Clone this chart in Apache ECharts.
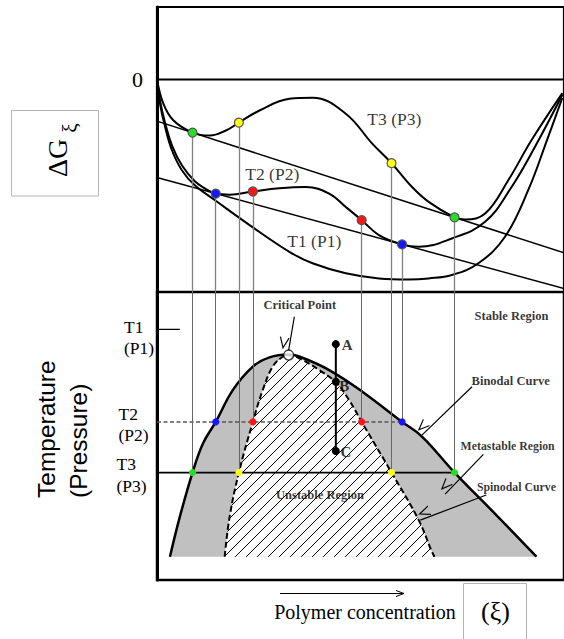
<!DOCTYPE html>
<html><head><meta charset="utf-8">
<script src="https://cdn.jsdelivr.net/npm/echarts@6/dist/echarts.min.js"></script>
<style>html,body{margin:0;padding:0;background:#fff}#c{width:564px;height:639px}</style>
</head><body><div id="c"></div>
<script>
// ---------------- data ----------------
// x : polymer concentration (arbitrary units 0-100)
// upper panel : ΔGξ (arbitrary units, 0 = top reference line)
const curveT1 = [[0,0],[0.73,-11.3],[1.96,-22.1],[3.67,-33.3],[6.11,-42.7],[9.29,-49.8],[14.6,-57.3],[22.74,-68.5],[32.52,-81.1],[38.22,-86.5],[46.38,-91.2],[54.52,-93.6],[61.86,-94.1],[66.75,-93.6],[72.44,-92.0],[78.97,-86.5],[85.5,-74.0],[91.2,-52.1],[96.09,-27.1],[99.6,-8.6]];
const curveT2 = [[0,0],[0.73,-9.9],[1.96,-20.2],[3.67,-31.0],[6.11,-40.4],[9.29,-47.9],[11.74,-51.2],[14.43,-53.7],[17.85,-54.2],[23.55,-52.7],[30.07,-51.2],[36.6,-50.6],[42.3,-53.7],[46.38,-60.0],[50.29,-66.2],[54.52,-73.2],[60.22,-77.6],[64.3,-78.7],[72.44,-74.8],[80.61,-67.0],[87.12,-50.6],[92.84,-31.8],[99.6,-7.2]];
const curveT3 = [[0,0],[1.56,-11.4],[4.0,-19.2],[8.73,-25.0],[12.96,-26.4],[17.04,-23.9],[20.12,-20.3],[25.18,-14.6],[32.52,-9.1],[38.22,-8.6],[46.38,-16.1],[52.89,-30.2],[57.63,-39.4],[62.67,-50.6],[66.75,-57.6],[73.11,-64.9],[75.72,-65.9],[80.61,-63.1],[86.31,-47.4],[92.0,-28.6],[99.6,-6.4]];
const curveNames = ['T1 (P1)','T2 (P2)','T3 (P3)'];

// tie points (common-tangent points, inflection points)
const greenX = [8.73, 73.11],  greenG = [-25.0, -64.9];   // binodal at T3
const yellowX = [20.12, 57.63], yellowG = [-20.3, -39.4]; // spinodal at T3
const blueX = [14.43, 60.22],  blueG = [-53.7, -77.6];    // binodal at T2
const redX = [23.55, 50.29],   redG = [-52.7, -66.2];     // spinodal at T2

// lower panel : temperature (arbitrary units 0-100)
const tempLevels = [87.0, 54.9, 37.3];
const tempNames = ['T1','T2','T3'];
const pressureNames = ['(P1)','(P2)','(P3)'];
const binodal = [[3.18,8.1],[5.62,22.0],[8.73,37.3],[11.32,47.5],[14.43,54.9],[18.66,66.0],[23.55,74.1],[27.63,77.3],[32.35,78.3],[34.96,77.6],[42.3,72.9],[50.44,65.4],[60.22,54.9],[65.11,49.8],[73.11,37.3],[83.13,22.9],[93.23,8.1]];
const spinodal = [[16.63,8.1],[17.85,22.0],[20.12,37.3],[23.55,54.9],[25.99,66.0],[28.44,74.1],[30.88,77.5],[32.35,78.0],[34.96,77.0],[39.85,72.9],[43.94,68.6],[47.19,62.5],[50.29,54.9],[57.63,37.3],[64.3,20.8],[67.55,9.8],[68.2,8.1]];
const diagramBaseT = 8.1;
const criticalPoint = [32.35, 78.1];
const pathNames = ['A','B','C'];
const pathX = 43.94;
const pathT = [81.9, 68.85, 44.8];

// ---------------- helpers ----------------
const SERIF = "'Liberation Serif','Times New Roman',serif";
const SANS = "'Liberation Sans',Arial,sans-serif";
function tangentThrough(xs, gs) {
  const k = (gs[1] - gs[0]) / (xs[1] - xs[0]);
  const b = gs[0] - k * xs[0];
  return [[0, b], [100, 100 * k + b]];
}
function pairs(xs, ys) { return xs.map((x, i) => [x, ys[i]]); }
function makeHatch() {
  const c = document.createElement('canvas'); c.width = 11; c.height = 11;
  const g = c.getContext('2d');
  g.fillStyle = '#fff'; g.fillRect(0, 0, 11, 11);
  g.strokeStyle = '#000'; g.lineWidth = 1;
  g.beginPath();
  g.moveTo(-1, 12); g.lineTo(12, -1);
  g.moveTo(-1, 1); g.lineTo(1, -1);
  g.moveTo(10, 12); g.lineTo(12, 10);
  g.stroke();
  return c;
}
const topDrops = [];
[[greenX, greenG], [yellowX, yellowG], [blueX, blueG], [redX, redG]].forEach(([xs, gs]) =>
  xs.forEach((x, i) => topDrops.push([{ coord: [x, gs[i]] }, { coord: [x, -100] }])));
const bottomDrops = [];
[[greenX, tempLevels[2]], [yellowX, tempLevels[2]], [blueX, tempLevels[1]], [redX, tempLevels[1]]].forEach(([xs, t]) =>
  xs.forEach(x => bottomDrops.push([{ coord: [x, 100] }, { coord: [x, t] }])));

const arrowHead = 'path://M0,12 L6,0 L12,12 L10.5,12 L6,3 L1.5,12 Z';
const blackLine = (w) => ({ color: '#000', width: w });

function line(gi, data, style, extra) {
  return Object.assign({ type: 'line', xAxisIndex: gi, yAxisIndex: gi, data, symbol: 'none', smooth: false, z: 3,
    silent: true, lineStyle: style }, extra || {});
}
function dots(gi, data, color, size, border) {
  return { type: 'scatter', xAxisIndex: gi, yAxisIndex: gi, data, symbolSize: size, silent: true, z: 5,
    itemStyle: Object.assign({ color, opacity: 1 }, border ? { borderColor: '#555', borderWidth: 1.2 } : {}) };
}
function texts(gi, data, pos, style) {
  return { type: 'scatter', xAxisIndex: gi, yAxisIndex: gi, symbolSize: 0, silent: true, data, z: 6,
    label: Object.assign({ show: true, position: pos, distance: 0, formatter: '{b}', color: '#000' }, style) };
}

const rich = {};
tempNames.forEach((n, i) => {
  rich['s' + i] = { fontSize: 1, lineHeight: i === 0 ? 16.4 : 5 };
  rich['a' + i] = { fontFamily: SERIF, fontSize: 17.5, lineHeight: 21.6, color: '#000', padding: [0, 0, 0, [8, 2.5, 0.5][i]] };
});

const chart = echarts.init(document.getElementById('c'), null, { renderer: 'svg' });
chart.setOption({
  animation: false,
  backgroundColor: '#fff',
  textStyle: { fontFamily: SERIF },
  grid: [
    { left: 157, top: 7, right: -2, height: 285, show: true, borderColor: '#000', borderWidth: 2.2 },
    { left: 157, top: 292, right: -2, height: 288, show: true, borderColor: '#000', borderWidth: 2.5 }
  ],
  xAxis: [
    { gridIndex: 0, type: 'value', min: 0, max: 100, show: false },
    { gridIndex: 1, type: 'value', min: 0, max: 100, show: false }
  ],
  yAxis: [
    { gridIndex: 0, type: 'value', min: -100, max: 34.1, axisLine: { show: true, lineStyle: blackLine(3) },
      axisTick: { show: false }, splitLine: { show: false },
      axisLabel: { customValues: [0], formatter: v => String(v), fontFamily: SERIF, fontSize: 22, color: '#000', margin: 14 } },
    { gridIndex: 1, type: 'value', min: 0, max: 100, axisLine: { show: true, lineStyle: blackLine(3) },
      axisTick: { show: false }, splitLine: { show: false },
      axisLabel: { customValues: tempLevels, align: 'left', margin: 41, rich,
        formatter: v => { const i = tempLevels.indexOf(v); return i < 0 ? '' :
          `{s${i}| }\n{a${i}|${tempNames[i]}}\n{a${i}|${pressureNames[i]}}`; } } }
  ],
  graphic: [
    { type: 'rect', shape: { x: 11.5, y: 110.5, width: 87, height: 85.5 }, style: { fill: 'none', stroke: '#b4b4b4', lineWidth: 1 }, silent: true },
    { type: 'text', x: 57.5, y: 158, rotation: Math.PI / 2, silent: true,
      style: { text: 'ΔG', fontFamily: SERIF, fontSize: 28, fill: '#000', align: 'center', verticalAlign: 'middle' } },
    { type: 'text', x: 70, y: 128, rotation: Math.PI / 2, silent: true,
      style: { text: 'ξ', fontFamily: SERIF, fontSize: 21, fill: '#000', align: 'center', verticalAlign: 'middle' } },
    { type: 'text', x: 62.5, y: 498, rotation: Math.PI / 2, silent: true,
      style: { text: 'Temperature\n(Pressure)', fontFamily: SANS, fontSize: 24.5, lineHeight: 31.6, fill: '#000', align: 'left', verticalAlign: 'middle' } },
    { type: 'text', x: 365, y: 612, silent: true,
      style: { text: 'Polymer concentration', fontFamily: SERIF, fontSize: 20, fill: '#000', align: 'center', verticalAlign: 'middle' } },
    { type: 'rect', shape: { x: 463.5, y: 583.5, width: 63, height: 70 }, style: { fill: 'none', stroke: '#b4b4b4', lineWidth: 1 }, silent: true },
    { type: 'text', x: 495.5, y: 611, silent: true,
      style: { text: '(ξ)', fontFamily: SERIF, fontSize: 26, fill: '#000', align: 'center', verticalAlign: 'middle' } },
    { type: 'line', shape: { x1: 280, y1: 593.5, x2: 403, y2: 593.5 }, style: { stroke: '#000', lineWidth: 1 }, silent: true },
    { type: 'polyline', shape: { points: [[396, 590.5], [404, 593.5], [396, 596.5]] }, style: { stroke: '#000', lineWidth: 1, fill: 'none' }, silent: true }
  ],
  series: [
    // ---------- upper panel ----------
    line(0, [[0, 0], [100, 0]], blackLine(2)),
    line(0, tangentThrough(greenX, greenG), blackLine(1.5)),
    line(0, tangentThrough(blueX, blueG), blackLine(1.5)),
    line(0, curveT1, blackLine(2), { smooth: 0.4 }),
    line(0, curveT2, blackLine(2), { smooth: 0.4 }),
    line(0, curveT3, blackLine(2), { smooth: 0.4 }),
    line(0, [], blackLine(0), { markLine: { silent: true, symbol: ['none', 'none'], label: { show: false },
      lineStyle: { color: '#808080', width: 1.3, type: 'solid' }, data: topDrops } }),
    dots(0, pairs(greenX, greenG), '#22e022', 9, true),
    dots(0, pairs(yellowX, yellowG), '#ffff10', 9, true),
    dots(0, pairs(blueX, blueG), '#1515ff', 9, true),
    dots(0, pairs(redX, redG), '#ff1515', 9, true),
    texts(0, [{ name: curveNames[0], value: [38.63, -76.0] }, { name: curveNames[1], value: [28.31, -44.7] }, { name: curveNames[2], value: [58.31, -18.45] }],
      'inside', { fontFamily: SERIF, fontSize: 17.5 }),

    // ---------- lower panel ----------
    line(1, binodal, { width: 0, opacity: 0 }, { z: 1, smooth: 0.4, areaStyle: { color: '#c0c0c0', opacity: 1, origin: diagramBaseT } }),
    line(1, spinodal, { width: 0, opacity: 0 }, { z: 1, smooth: 0.4, areaStyle: { color: { image: makeHatch(), repeat: 'repeat' }, opacity: 1, origin: diagramBaseT } }),
    line(1, binodal, blackLine(2.5), { smooth: 0.4 }),
    line(1, spinodal, { color: '#000', width: 2, type: [6, 3] }, { smooth: 0.4 }),
    line(1, [], blackLine(0), { markLine: { silent: true, symbol: ['none', 'none'], label: { show: false },
      lineStyle: { color: '#666', width: 1, type: 'solid' }, data: bottomDrops } }),
    line(1, [[0, tempLevels[0]], [5.6, tempLevels[0]]], blackLine(1.2)),
    line(1, [[0, tempLevels[1]], [blueX[1], tempLevels[1]]], { color: '#555', width: 1.5, type: [4, 2.5] }),
    line(1, [[0, tempLevels[2]], [greenX[1], tempLevels[2]]], blackLine(1.6)),
    dots(1, greenX.map(x => [x, tempLevels[2]]), '#22e022', 7, false),
    dots(1, yellowX.map(x => [x, tempLevels[2]]), '#ffff10', 7, false),
    dots(1, blueX.map(x => [x, tempLevels[1]]), '#1515ff', 7, false),
    dots(1, redX.map(x => [x, tempLevels[1]]), '#ff1515', 7, false),
    line(1, [[pathX, pathT[0]], [pathX, pathT[2]]], blackLine(2), { z: 4 }),
    dots(1, pathT.map(t => [pathX, t]), '#000', 8, false),
    { type: 'scatter', xAxisIndex: 1, yAxisIndex: 1, data: [criticalPoint], symbolSize: 10, silent: true, z: 5,
      itemStyle: { color: '#fff', borderColor: '#000', borderWidth: 1.3 } },
    texts(1, pathNames.map((n, i) => ({ name: n, value: [[45.4, 44.8, 45.1][i], [81.6, 67.4, 44.6][i]] })),
      'right', { fontFamily: SERIF, fontSize: 15, fontWeight: 'bold' }),
    texts(1, [{ name: 'Critical Point', value: [35.09, 95.4] }, { name: 'Stable Region', value: [87.1, 91.6] },
      { name: 'Unstable Region', value: [40.05, 29.5] }], 'inside', { fontFamily: SERIF, fontSize: 12.5, fontWeight: 'bold' }),
    texts(1, [{ name: 'Binodal Curve', value: [77.3, 69.0] }], 'right', { fontFamily: SERIF, fontSize: 12.5, fontWeight: 'bold' }),
    texts(1, [{ name: 'Metastable Region', value: [74.6, 46.5] }, { name: 'Spinodal Curve', value: [78.6, 32.4] }],
      'right', { fontFamily: SERIF, fontSize: 11.8, fontWeight: 'bold' }),
    line(1, [], blackLine(0), { z: 6, markLine: { silent: true, symbol: ['none', arrowHead], symbolSize: [10, 12], symbolOffset: [0, 6],
      label: { show: false }, lineStyle: { color: '#000', width: 1.2, type: 'solid' },
      data: [
        [{ coord: [33.74, 91.4] }, { coord: [32.35, 79.8] }],
        [{ coord: [77.4, 67.1] }, { coord: [65.1, 50.3] }],
        [{ coord: [80.2, 43.6] }, { coord: [70.8, 29.8] }],
        [{ coord: [80.9, 29.5] }, { coord: [64.7, 20.8] }]
      ] } })
  ]
});
</script></body></html>
